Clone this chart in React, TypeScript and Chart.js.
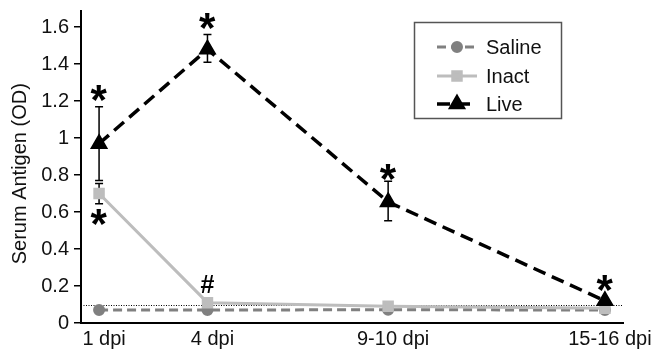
import React, { useEffect, useRef } from 'react';
import { Chart, registerables } from 'chart.js';
import { drawPoint } from 'chart.js/helpers';

Chart.register(...registerables);

// ---- data ----
const dayValues = [1, 4, 9, 15];
const dayLabels = ['1 dpi', '4 dpi', '9-10 dpi', '15-16 dpi'];
const salineValues = [0.07, 0.07, 0.072, 0.07];
const inactValues = [0.7, 0.11, 0.09, 0.08];
const liveValues = [0.97, 1.48, 0.655, 0.12];
const liveErrLow = [0.77, 1.41, 0.553, 0.12];
const liveErrHigh = [1.17, 1.56, 0.766, 0.12];
const inactErrLow = [0.645, 0.11, 0.09, 0.08];
const inactErrHigh = [0.755, 0.11, 0.09, 0.08];
const yTickValues = [0, 0.2, 0.4, 0.6, 0.8, 1, 1.2, 1.4, 1.6];
const yAxisTitle = 'Serum Antigen (OD)';
const detectionLimit = 0.1;
const markTexts = ['*', '*', '*', '*', '*', '#'];
const markX = [1, 4, 9, 15, 1, 4];
const markY = [1.243, 1.634, 0.818, 0.215, 0.575, 0.211];
const seriesNames = ['Saline', 'Inact', 'Live'];

const FONT = '"Liberation Sans", Arial, sans-serif';

const extrasPlugin = {
  id: 'extras',
  beforeDatasetsDraw(chart: any) {
    const { ctx, chartArea, scales } = chart;
    const x = scales.x;
    const y = scales.y;
    // detection limit dotted line
    ctx.save();
    ctx.strokeStyle = '#000';
    ctx.lineWidth = 1;
    ctx.setLineDash([1, 1.5]);
    const yy = Math.round(y.getPixelForValue(detectionLimit)) + 0.5;
    ctx.beginPath();
    ctx.moveTo(chartArea.left, yy);
    ctx.lineTo(chartArea.right - 1, yy);
    ctx.stroke();
    ctx.restore();

    // error bars
    const drawBar = (xv: number, lo: number, hi: number) => {
      if (hi - lo < 0.005) return;
      const px = x.getPixelForValue(xv);
      const p1 = y.getPixelForValue(lo);
      const p2 = y.getPixelForValue(hi);
      ctx.beginPath();
      ctx.moveTo(px, p1);
      ctx.lineTo(px, p2);
      ctx.moveTo(px - 4, p1);
      ctx.lineTo(px + 4, p1);
      ctx.moveTo(px - 4, p2);
      ctx.lineTo(px + 4, p2);
      ctx.stroke();
    };
    ctx.save();
    ctx.strokeStyle = '#000';
    ctx.lineWidth = 1.5;
    for (let i = 0; i < dayValues.length; i++) {
      drawBar(dayValues[i], liveErrLow[i], liveErrHigh[i]);
      drawBar(dayValues[i], inactErrLow[i], inactErrHigh[i]);
    }
    ctx.restore();
  },
  afterDraw(chart: any) {
    const { ctx, chartArea } = chart;
    // y axis title
    ctx.save();
    ctx.translate(20, (chartArea.top + chartArea.bottom) / 2 + 7);
    ctx.rotate(-Math.PI / 2);
    ctx.font = `20px ${FONT}`;
    ctx.fillStyle = '#111';
    ctx.textAlign = 'center';
    ctx.textBaseline = 'middle';
    ctx.fillText(yAxisTitle, 0, 0);
    ctx.restore();
  },
  afterDatasetsDraw(chart: any) {
    const { ctx, scales } = chart;
    const x = scales.x;
    const y = scales.y;
    // significance marks
    ctx.save();
    ctx.fillStyle = '#000';
    ctx.textAlign = 'left';
    ctx.textBaseline = 'alphabetic';
    for (let i = 0; i < markTexts.length; i++) {
      const t = markTexts[i];
      ctx.font = t === '*' ? `bold 42px ${FONT}` : `bold 25px ${FONT}`;
      const m = ctx.measureText(t);
      const px = x.getPixelForValue(markX[i]);
      const py = y.getPixelForValue(markY[i]);
      const tx = px - (m.actualBoundingBoxRight - m.actualBoundingBoxLeft) / 2;
      const ty = py + (m.actualBoundingBoxAscent - m.actualBoundingBoxDescent) / 2;
      ctx.fillText(t, tx, ty);
    }
    ctx.restore();

    // legend
    ctx.save();
    ctx.strokeStyle = '#555';
    ctx.lineWidth = 1.5;
    ctx.strokeRect(414.5, 22.5, 147, 96);
    const rows = [47, 76, 104];
    chart.data.datasets.forEach((ds: any, i: number) => {
      const ry = rows[i];
      ctx.save();
      ctx.strokeStyle = ds.borderColor;
      ctx.lineWidth = ds.borderWidth;
      ctx.setLineDash(ds.borderDash || []);
      ctx.beginPath();
      ctx.moveTo(437, ry);
      ctx.lineTo(477, ry);
      ctx.stroke();
      ctx.setLineDash([]);
      ctx.fillStyle = ds.pointBackgroundColor;
      ctx.strokeStyle = ds.pointBorderColor;
      drawPoint(ctx, { pointStyle: ds.pointStyle, radius: ds.pointRadius, rotation: 0, borderWidth: 1 } as any, 457, ry);
      ctx.restore();
      ctx.fillStyle = '#111';
      ctx.font = `20px ${FONT}`;
      ctx.textBaseline = 'middle';
      ctx.textAlign = 'left';
      ctx.fillText(ds.label, 486, ry + 1);
    });
    ctx.restore();
  },
};

export default function App() {
  const ref = useRef<HTMLCanvasElement | null>(null);
  useEffect(() => {
    if (!ref.current) return;
    const mk = (vals: number[]) => vals.map((v, i) => ({ x: dayValues[i], y: v }));
    const chart = new Chart(ref.current, {
      type: 'line',
      data: {
        datasets: [
          {
            label: seriesNames[0],
            data: mk(salineValues),
            borderColor: '#808080',
            backgroundColor: '#808080',
            borderWidth: 3,
            borderDash: [9, 5],
            pointStyle: 'circle',
            pointRadius: 4.5,
            pointBackgroundColor: '#808080',
            pointBorderColor: '#808080',
            order: 2,
          },
          {
            label: seriesNames[1],
            data: mk(inactValues),
            borderColor: '#bdbdbd',
            backgroundColor: '#bdbdbd',
            borderWidth: 3,
            borderDash: [],
            pointStyle: 'rect',
            pointRadius: 6,
            pointBackgroundColor: '#bdbdbd',
            pointBorderColor: '#bdbdbd',
            order: 1,
          },
          {
            label: seriesNames[2],
            data: mk(liveValues),
            borderColor: '#000',
            backgroundColor: '#000',
            borderWidth: 3.5,
            borderDash: [13, 7],
            pointStyle: 'triangle',
            pointRadius: 7,
            pointBackgroundColor: '#000',
            pointBorderColor: '#000',
            order: 0,
          },
        ],
      } as any,
      options: {
        animation: false,
        responsive: true,
        maintainAspectRatio: false,
        layout: { padding: { left: 0, top: 7, right: 46, bottom: 0 } },
        plugins: { legend: { display: false }, tooltip: { enabled: false } },
        scales: {
          x: {
            type: 'linear',
            min: 0.5,
            max: 15.5,
            afterBuildTicks: (s: any) => {
              s.ticks = dayValues.map((v) => ({ value: v }));
            },
            afterFit: (s: any) => {
              s.height = 31;
              s.paddingLeft = 0;
              s.paddingRight = 0;
            },
            grid: { display: false, drawTicks: false },
            border: { display: true, color: '#000', width: 2 },
            ticks: {
              autoSkip: false,
              maxRotation: 0,
              padding: 4,
              labelOffset: 5,
              color: '#111',
              font: { family: FONT, size: 20 },
              callback: (v: any) => {
                const i = dayValues.indexOf(Number(v));
                return i >= 0 ? dayLabels[i] : '';
              },
            },
          },
          y: {
            type: 'linear',
            min: 0,
            max: 1.69,
            afterBuildTicks: (s: any) => {
              s.ticks = yTickValues.map((v) => ({ value: v }));
            },
            afterFit: (s: any) => {
              s.width = 81;
              s.paddingTop = 0;
              s.paddingBottom = 0;
            },
            grid: { display: true, drawOnChartArea: false, drawTicks: true, tickLength: 7, color: '#000', lineWidth: 1.5 },
            border: { display: true, color: '#000', width: 2 },
            ticks: {
              padding: 5,
              color: '#111',
              font: { family: FONT, size: 20 },
              callback: (v: any) => String(Math.round(Number(v) * 10) / 10),
            },
          },
        },
      } as any,
      plugins: [extrasPlugin],
    });
    return () => chart.destroy();
  }, []);
  return (
    <div style={{ position: 'absolute', left: 0, top: 0, width: 669, height: 354, background: '#fff' }}>
      <canvas ref={ref} />
    </div>
  );
}
